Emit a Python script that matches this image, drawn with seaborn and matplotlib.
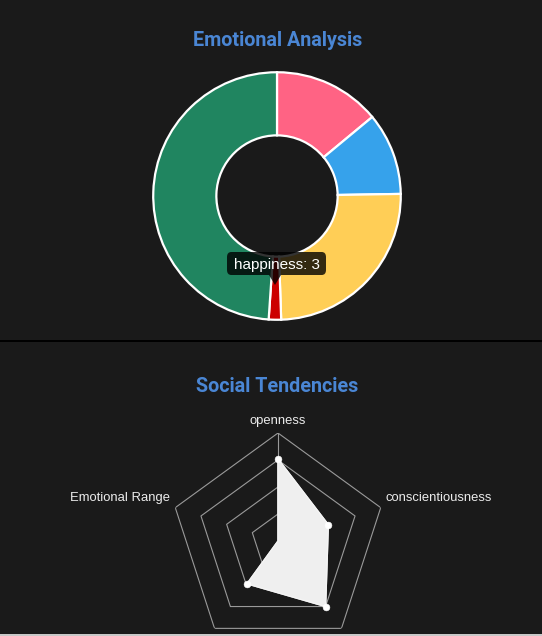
import numpy as np
import pandas as pd
import matplotlib
matplotlib.use("Agg")
import seaborn as sns
import matplotlib.pyplot as plt
from matplotlib.patches import FancyBboxPatch, Polygon, Rectangle

# Emotional Analysis (doughnut)
emotions = ["anger", "fear", "sadness", "happiness", "neutral"]
emotion_values = [26, 20, 46, 3, 91]
emotion_colors = ["#ff6384", "#36a2eb", "#ffce56", "#cc0000", "#208560"]

# Social Tendencies (radar)
traits = ["openness", "conscientiousness", "extraversion", "agreeableness", "Emotional Range"]
trait_values = [0.76, 0.49, 0.75, 0.49, 0.0]
ring_levels = [0.25, 0.5, 0.75, 1.0]

BG = "#1a1a1a"
TITLE_COLOR = "#4a86d4"
W, H = 542, 636

sns.set_theme(style="dark", rc={"figure.facecolor": BG, "axes.facecolor": BG})
plt.rcParams['font.family'] = ['Liberation Sans', 'DejaVu Sans']


def fx(px):
    return px / W


def fy(py):
    return (H - py) / H


fig = plt.figure(figsize=(W / 100, H / 100), dpi=100)
fig.patch.set_facecolor(BG)

# separator between the two cards
fig.add_artist(Rectangle((0, fy(342)), 1, 2 / H, transform=fig.transFigure,
                         color="#000000", lw=0))
# light strip at the very bottom edge
fig.add_artist(Rectangle((0, 0), 1, 2 / H, transform=fig.transFigure,
                         color="#c8c8c8", lw=0, zorder=10))

# titles
fig.text(fx(277.5), fy(41), "Emotional Analysis", ha="center", va="center",
         color=TITLE_COLOR, fontsize=14.2, fontweight="bold", family=["Roboto", "DejaVu Sans"])
fig.text(fx(277.5), fy(386), "Social Tendencies", ha="center", va="center",
         color=TITLE_COLOR, fontsize=14.2, fontweight="bold", family=["Roboto", "DejaVu Sans"])

# ---- doughnut
cx, cy, R = 277, 196, 125
ax_pie = fig.add_axes([fx(cx - R), fy(cy + R), 2 * R / W, 2 * R / H])
ax_pie.pie(emotion_values, colors=emotion_colors, startangle=90, counterclock=False,
           radius=1.0, wedgeprops=dict(width=0.51, edgecolor="white", linewidth=1.6))
ax_pie.set_xlim(-1.01, 1.01)
ax_pie.set_ylim(-1.01, 1.01)
ax_pie.set_aspect("equal")
ax_pie.axis("off")

# tooltip on the happiness slice
fig.add_artist(FancyBboxPatch((fx(227), fy(275)), fx(99), (275 - 252) / H,
                              boxstyle="round,pad=0,rounding_size=0.008",
                              transform=fig.transFigure, facecolor="black",
                              alpha=0.8, lw=0, zorder=5))
fig.add_artist(Polygon([(fx(269), fy(275)), (fx(281), fy(275)), (fx(275), fy(285))],
                       closed=True, transform=fig.transFigure, facecolor="black",
                       alpha=0.8, lw=0, zorder=5))
fig.text(fx(276.5), fy(265), "happiness: 3", ha="center", va="center",
         color="white", fontsize=11, zorder=6)

# ---- radar
rcx, rcy, rR = 278, 541, 108
ax_r = fig.add_axes([fx(rcx - rR), fy(rcy + rR), 2 * rR / W, 2 * rR / H], projection="polar")
ax_r.set_facecolor("none")
ax_r.set_theta_zero_location("N")
ax_r.set_theta_direction(-1)
angles = np.deg2rad(np.arange(len(traits)) * 360 / len(traits))
closed = np.append(angles, angles[0])

for lvl in ring_levels:
    ax_r.plot(closed, [lvl] * len(closed), color="#9a9a9a", lw=0.8, zorder=1)
ax_r.plot([angles[0], angles[0]], [0, 1], color="#9a9a9a", lw=0.8, zorder=1)

vals = np.append(trait_values, trait_values[0])
ax_r.fill(closed, vals, color="#efefef", zorder=2)
ax_r.plot(closed, vals, color="#f4f4f4", lw=1.0, zorder=3)
df_r = pd.DataFrame({"theta": angles, "r": trait_values})
df_r = df_r[df_r["r"] > 0]
sns.scatterplot(data=df_r, x="theta", y="r", ax=ax_r, color="white", s=24,
                edgecolor="white", zorder=4, legend=False)

ax_r.set_ylim(0, 1)
ax_r.grid(False)
ax_r.set_xticks([])
ax_r.set_yticks([])
ax_r.set_xlabel("")
ax_r.set_ylabel("")
ax_r.spines["polar"].set_visible(False)

lab = dict(color="#ececec", fontsize=9.4)
fig.text(fx(278), fy(421), traits[0], ha="center", va="center", **lab)
fig.text(fx(385), fy(498), traits[1], ha="left", va="center", **lab)
fig.text(fx(346), fy(641), traits[2], ha="left", va="center", **lab)
fig.text(fx(210), fy(641), traits[3], ha="right", va="center", **lab)
fig.text(fx(170.5), fy(498), traits[4], ha="right", va="center", **lab)

fig.savefig("out.png", dpi=100, facecolor=BG)
